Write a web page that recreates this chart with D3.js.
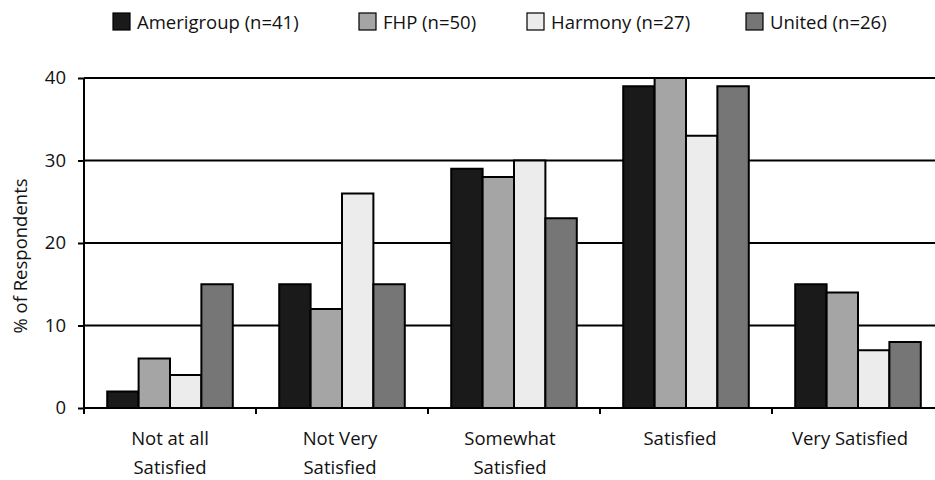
<!DOCTYPE html>
<html>
<head>
<meta charset="utf-8">
<script src="https://cdn.jsdelivr.net/npm/d3@7/dist/d3.min.js"></script>
<style>
  html, body { margin: 0; padding: 0; background: #fff; }
  svg { display: block; }
  text { font-family: "Open Sans", "Noto Sans", sans-serif; fill: #111; }
</style>
</head>
<body>
<svg id="chart" width="935" height="480"></svg>
<script>
const categories = [["Not at all", "Satisfied"], ["Not Very", "Satisfied"], ["Somewhat", "Satisfied"], ["Satisfied"], ["Very Satisfied"]];
const seriesNames = ["Amerigroup (n=41)", "FHP (n=50)", "Harmony (n=27)", "United (n=26)"];
const amerigroup = [2, 15, 29, 39, 15];
const fhp = [6, 12, 28, 40, 14];
const harmony = [4, 26, 30, 33, 7];
const united = [15, 15, 23, 39, 8];
const yTicks = [0, 10, 20, 30, 40];
const colors = ["#1a1a1a", "#a5a5a5", "#ececec", "#767676"];

const series = [amerigroup, fhp, harmony, united];
const catKeys = categories.map(c => c.join(" "));

const svg = d3.select("#chart");
const mLeft = 84, mRight = 944, mTop = 78, mBottom = 408;

const x = d3.scaleBand().domain(catKeys).range([mLeft, mRight]).paddingInner(0.27).paddingOuter(0.135);
const xs = d3.scaleBand().domain(seriesNames).range([0, x.bandwidth()]);
const y = d3.scaleLinear().domain([0, 40]).range([mBottom, mTop]);

// gridlines
svg.append("g").selectAll("line").data(yTicks.filter(d => d > 0)).join("line")
  .attr("x1", mLeft).attr("x2", 935)
  .attr("y1", d => y(d)).attr("y2", d => y(d))
  .attr("stroke", "#000").attr("stroke-width", 2);

// bars
const groups = svg.append("g").selectAll("g").data(catKeys).join("g")
  .attr("transform", d => `translate(${x(d)},0)`);
groups.selectAll("rect").data((d, i) => series.map((s, j) => ({ name: seriesNames[j], v: s[i], j })))
  .join("rect")
  .attr("x", d => xs(d.name))
  .attr("width", xs.bandwidth())
  .attr("y", d => y(d.v))
  .attr("height", d => mBottom - y(d.v))
  .attr("fill", d => colors[d.j])
  .attr("stroke", "#000").attr("stroke-width", 2);

// y axis
const yAxis = svg.append("g").attr("transform", `translate(${mLeft},0)`)
  .call(d3.axisLeft(y).tickValues(yTicks).tickSize(6).tickPadding(12).tickFormat(d3.format("d")));
yAxis.select(".domain").attr("stroke", "#000").attr("stroke-width", 2).attr("d", `M0,${mTop}V${mBottom}`);
yAxis.selectAll(".tick line").attr("stroke", "#000").attr("stroke-width", 2);
yAxis.selectAll(".tick text").attr("font-size", 18.5).attr("font-family", "Open Sans").attr("fill", "#111");

// x axis
svg.append("line").attr("x1", mLeft).attr("x2", 935).attr("y1", mBottom).attr("y2", mBottom)
  .attr("stroke", "#000").attr("stroke-width", 2);
const boundaries = catKeys.map(k => x(k) - x.step() * x.paddingOuter()).concat([mRight]);
svg.append("g").selectAll("line").data(boundaries).join("line")
  .attr("x1", d => d).attr("x2", d => d).attr("y1", mBottom).attr("y2", mBottom + 6)
  .attr("stroke", "#000").attr("stroke-width", 2);

// x labels
const lab = svg.append("g").selectAll("text").data(categories).join("text")
  .attr("text-anchor", "middle")
  .attr("font-size", 18.5)
  .attr("transform", (d, i) => `translate(${x(catKeys[i]) + x.bandwidth() / 2 - 2 * i},0)`);
lab.selectAll("tspan").data(d => d).join("tspan")
  .attr("x", 0).attr("y", (d, i) => 445 + i * 29).text(d => d);

// y label
svg.append("text").attr("transform", "translate(27,256) rotate(-90)")
  .attr("text-anchor", "middle").attr("font-size", 18.5).text("% of Respondents");

// legend
const legendX = [113, 359, 527, 746];
const leg = svg.append("g").selectAll("g").data(seriesNames).join("g")
  .attr("transform", (d, i) => `translate(${legendX[i]},13)`);
leg.append("rect").attr("width", 17).attr("height", 17)
  .attr("fill", (d, i) => colors[i]).attr("stroke", "#000").attr("stroke-width", 1.2);
leg.append("text").attr("x", 24).attr("y", 15.5).attr("font-size", 18.5).text(d => d);
</script>
</body>
</html>
